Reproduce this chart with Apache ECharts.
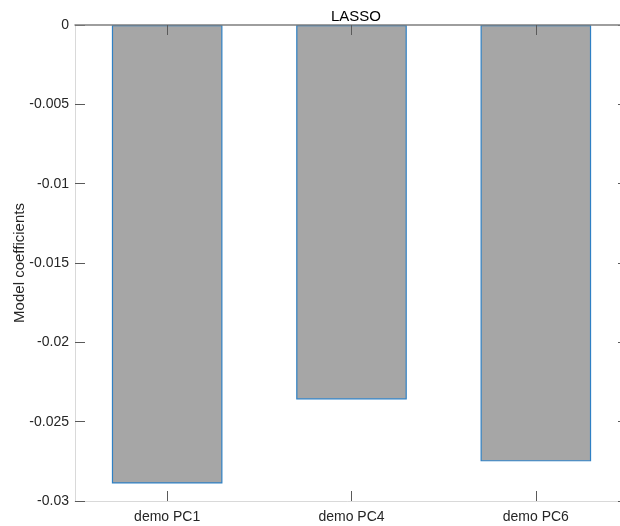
<!DOCTYPE html>
<html>
<head>
<meta charset="utf-8">
<script src="https://cdn.jsdelivr.net/npm/echarts@6/dist/echarts.min.js"></script>
<style>
  html, body { margin: 0; padding: 0; background: #fff; }
  #chart { width: 620px; height: 526px; }
</style>
</head>
<body>
<div id="chart"></div>
<script>
// LASSO model coefficients for the selected demographic principal components
const categories = ['demo PC1', 'demo PC4', 'demo PC6'];
const coefficients = [-0.0289, -0.0236, -0.0275];
const yTicks = { min: -0.03, max: 0, step: 0.005 };

const font = 'Liberation Sans, Arial, Helvetica, sans-serif';
const boxColor = '#d9d9d9';
const tickColor = '#5a5a5a';

const chart = echarts.init(document.getElementById('chart'), null, { renderer: 'canvas' });

chart.setOption({
  animation: false,
  backgroundColor: '#ffffff',
  title: {
    text: 'LASSO',
    left: 351, textAlign: 'center',
    top: 4,
    textStyle: { fontFamily: font, fontSize: 15, fontWeight: 'normal', color: '#000' }
  },
  grid: { left: 75, top: 25, width: 553, height: 476, containLabel: false, outerBoundsMode: 'none' },
  xAxis: [
    {
      type: 'category',
      data: categories,
      position: 'bottom',
      boundaryGap: true,
      axisLine: { show: true, onZero: false, lineStyle: { color: boxColor, width: 1 } },
      axisTick: { show: true, inside: true, length: 10, alignWithLabel: true, lineStyle: { color: tickColor } },
      axisLabel: { fontFamily: font, fontSize: 14, color: '#262626', margin: 9 },
      splitLine: { show: false }
    },
    {
      type: 'category',
      data: categories,
      position: 'top',
      boundaryGap: true,
      axisLine: { show: true, onZero: false, lineStyle: { color: '#7f7f7f', width: 1.5 } },
      axisTick: { show: true, inside: true, length: 10, alignWithLabel: true, lineStyle: { color: tickColor } },
      axisLabel: { show: false },
      splitLine: { show: false },
      z: 5
    }
  ],
  yAxis: [
    {
      type: 'value',
      position: 'left',
      min: yTicks.min, max: yTicks.max, interval: yTicks.step,
      name: 'Model coefficients',
      nameLocation: 'middle',
      nameGap: 48,
      nameMoveOverlap: false,
      nameTextStyle: { fontFamily: font, fontSize: 15, color: '#262626' },
      axisLine: { show: true, onZero: false, lineStyle: { color: boxColor, width: 1 } },
      axisTick: { show: true, inside: true, length: 10, lineStyle: { color: tickColor } },
      axisLabel: {
        fontFamily: font, fontSize: 14, color: '#262626', margin: 6,
        formatter: v => String(parseFloat(v.toFixed(4)))
      },
      splitLine: { show: false }
    },
    {
      type: 'value',
      position: 'right',
      min: yTicks.min, max: yTicks.max, interval: yTicks.step,
      axisLine: { show: true, onZero: false, lineStyle: { color: boxColor, width: 1 } },
      axisTick: { show: true, inside: true, length: 10, lineStyle: { color: tickColor } },
      axisLabel: { show: false },
      splitLine: { show: false }
    }
  ],
  series: [{
    type: 'bar',
    data: coefficients,
    xAxisIndex: 0,
    yAxisIndex: 0,
    barWidth: '60%',
    itemStyle: { color: '#a6a6a6', borderColor: '#2f80c4', borderWidth: 1.2 },
    z: 2
  }]
});
</script>
</body>
</html>
